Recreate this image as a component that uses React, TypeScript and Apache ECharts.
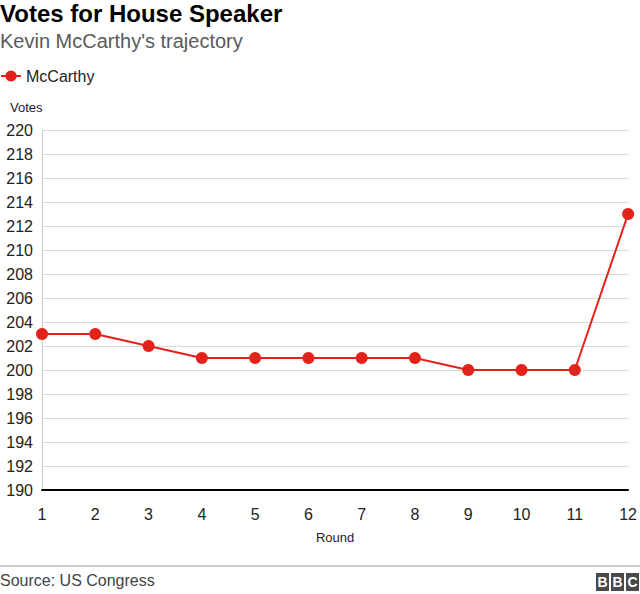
import React, { useEffect, useRef } from "react";
import * as echarts from "echarts";

const rounds = ["1", "2", "3", "4", "5", "6", "7", "8", "9", "10", "11", "12"];
const mccarthyVotes = [203, 203, 202, 201, 201, 201, 201, 201, 200, 200, 200, 213];
const titleText = "Votes for House Speaker";
const subtitleText = "Kevin McCarthy's trajectory";
const sourceText = "Source: US Congress";

const FONT = "'Liberation Sans', Arial, Helvetica, sans-serif";
const RED = "#e3231b";

export default function App() {
  const ref = useRef<HTMLDivElement>(null);
  useEffect(() => {
    document.body.style.margin = "0";
    const chart = echarts.init(ref.current!, null, { renderer: "svg" });
    const logo = ["B", "B", "C"].flatMap((ch, i) => [
      { type: "rect", shape: { x: 596 + i * 15, y: 573, width: 13, height: 18 }, style: { fill: "#4a4a4a" } },
      {
        type: "text",
        x: 596 + i * 15 + 6.5,
        y: 582,
        style: { text: ch, fill: "#fff", font: `bold 14px ${FONT}`, align: "center", verticalAlign: "middle" },
      },
    ]);
    chart.setOption({
      animation: false,
      textStyle: { fontFamily: FONT },
      title: [
        { text: titleText, left: 0, top: 1, padding: 0, textStyle: { fontSize: 24, fontWeight: "bold", color: "#000", fontFamily: FONT } },
        { text: subtitleText, left: 0, top: 31, padding: 0, textStyle: { fontSize: 20, fontWeight: "normal", color: "#5a5a5a", fontFamily: FONT } },
      ],
      legend: {
        left: 0,
        top: 68,
        padding: 0,
        itemWidth: 20,
        itemHeight: 14,
        itemGap: 8,
        textStyle: { fontSize: 16, color: "#222", fontFamily: FONT },
        data: [{ name: "McCarthy" }],
      },
      grid: { left: 42, right: 10, top: 130, bottom: 104, containLabel: false },
      xAxis: {
        type: "category",
        data: rounds,
        boundaryGap: false,
        name: "Round",
        nameLocation: "middle",
        nameGap: 41,
        nameTextStyle: { fontSize: 13, color: "#222", fontFamily: FONT },
        axisLine: { show: true, lineStyle: { color: "#000", width: 2 } },
        axisTick: { show: false },
        axisLabel: { fontSize: 16, color: "#222", margin: 16, fontFamily: FONT },
        splitLine: { show: false },
      },
      yAxis: {
        type: "value",
        min: 190,
        max: 220,
        interval: 2,
        name: "Votes",
        nameLocation: "end",
        nameGap: 0,
        nameTextStyle: { fontSize: 13, color: "#222", align: "left", padding: [0, 0, 16, -32], fontFamily: FONT },
        axisLine: { show: true, lineStyle: { color: "#cccccc", width: 1 } },
        axisTick: { show: false },
        axisLabel: { fontSize: 16, color: "#222", margin: 9, fontFamily: FONT },
        splitLine: { show: true, lineStyle: { color: "#d9d9d9", width: 1 } },
      },
      series: [
        {
          name: "McCarthy",
          type: "line",
          data: mccarthyVotes,
          symbol: "circle",
          symbolSize: 12,
          itemStyle: { color: RED },
          lineStyle: { color: RED, width: 2 },
        },
      ],
      graphic: [
        { type: "line", shape: { x1: 0, y1: 566, x2: 640, y2: 566 }, style: { stroke: "#999", lineWidth: 1 } },
        {
          type: "text",
          x: 0,
          y: 580,
          style: { text: sourceText, fill: "#444", font: `16px ${FONT}`, verticalAlign: "middle" },
        },
        ...logo,
      ],
    });
    return () => chart.dispose();
  }, []);
  return <div ref={ref} style={{ width: 640, height: 594, position: "absolute", left: 0, top: 0 }} />;
}
